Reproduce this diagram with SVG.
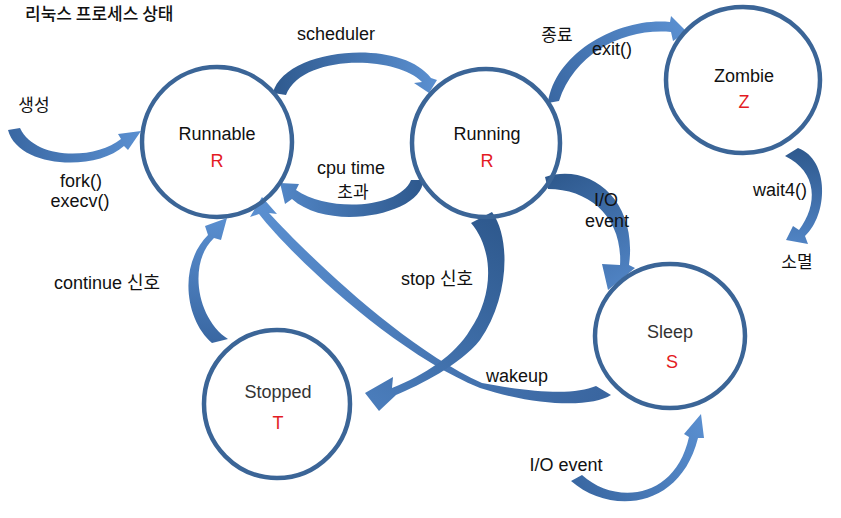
<svg xmlns="http://www.w3.org/2000/svg" width="841" height="518" viewBox="0 0 841 518">
<style>
.st{fill:none;stroke:#3b6597;stroke-width:4.5}
.t{font-family:"Liberation Sans","Noto Sans CJK KR",sans-serif;font-size:18px;fill:#111;text-anchor:middle}
.k{font-family:"Noto Sans CJK KR","Liberation Sans",sans-serif;font-size:17px;fill:#111;text-anchor:middle}
.r{font-family:"Liberation Sans",sans-serif;font-size:18px;fill:#e31b23;text-anchor:middle}
.g{fill:#333}
</style>
<defs>
<linearGradient id="a1" gradientUnits="userSpaceOnUse" x1="10" y1="130" x2="140" y2="131"><stop offset="0" stop-color="#3a68a3"/><stop offset="1" stop-color="#5a8fd0"/></linearGradient>
<linearGradient id="a2" gradientUnits="userSpaceOnUse" x1="275" y1="95" x2="435" y2="88"><stop offset="0" stop-color="#2f5a8f"/><stop offset="1" stop-color="#5a8fd0"/></linearGradient>
<linearGradient id="a3" gradientUnits="userSpaceOnUse" x1="418" y1="182" x2="280" y2="185"><stop offset="0" stop-color="#2f5a8f"/><stop offset="1" stop-color="#5286c6"/></linearGradient>
<linearGradient id="a4" gradientUnits="userSpaceOnUse" x1="553" y1="103" x2="686" y2="32"><stop offset="0" stop-color="#3a68a3"/><stop offset="1" stop-color="#5a8fd0"/></linearGradient>
<linearGradient id="a5" gradientUnits="userSpaceOnUse" x1="790" y1="150" x2="786" y2="240"><stop offset="0" stop-color="#2f5a8f"/><stop offset="1" stop-color="#4f82c2"/></linearGradient>
<linearGradient id="a6" gradientUnits="userSpaceOnUse" x1="548" y1="182" x2="608" y2="288"><stop offset="0" stop-color="#2f5a8f"/><stop offset="1" stop-color="#4f82c2"/></linearGradient>
<linearGradient id="a7" gradientUnits="userSpaceOnUse" x1="482" y1="218" x2="366" y2="393"><stop offset="0" stop-color="#2f5a8f"/><stop offset="1" stop-color="#4a7cba"/></linearGradient>
<linearGradient id="a8" gradientUnits="userSpaceOnUse" x1="603" y1="391" x2="262" y2="198"><stop offset="0" stop-color="#3a66a0"/><stop offset="1" stop-color="#5a8fd0"/></linearGradient>
<linearGradient id="a9" gradientUnits="userSpaceOnUse" x1="220" y1="340" x2="226" y2="218"><stop offset="0" stop-color="#3a68a3"/><stop offset="1" stop-color="#5a8fd0"/></linearGradient>
<linearGradient id="a10" gradientUnits="userSpaceOnUse" x1="576" y1="478" x2="701" y2="414"><stop offset="0" stop-color="#3a68a3"/><stop offset="1" stop-color="#5a8fd0"/></linearGradient>
</defs>
<rect width="841" height="518" fill="#fff"/>
<text x="25" y="20" font-family="Noto Sans CJK KR, sans-serif" font-size="17" font-weight="500" fill="#111">리눅스 프로세스 상태</text>
<g id="connectors">
<path id="fork" fill="url(#a1)" d="M8,130 C18,168 95,172 124,146 L128,150 L141,131 L118,134 L121,139 C95,160 35,160 20,128 Z"/>
<path id="scheduler" fill="url(#a2)" d="M273,93 C284,48 400,37 431,78 L437,80 L429,93 L414,83 L422,82 C395,55 302,54 286,95 Z"/>
<path id="cputime" fill="url(#a3)" d="M423,180 C424,214 330,233 292,199 L285,204 L280,183 L299,184 L296,190 C330,213 400,208 411,180 Z"/>
<path id="exit" fill="url(#a4)" d="M548,103 C555,52 620,17 670,22 L671,16 L687,32 L673,41 L671,32 C625,28 575,52 559,101 Z"/>
<path id="wait4" fill="url(#a5)" d="M798,148 C830,160 828,215 805,236 L808,244 L786,240 L793,226 L799,230 C818,205 818,172 785,156 Z"/>
<path id="ioevent1" fill="url(#a6)" d="M545,177 C590,162 638,200 629,265 L635,268 L608,290 L602,264 L620,265 C623,218 590,189 548,189 Z"/>
<path id="wakeup" fill="url(#a8)" d="M259,214 C292,256 394,353 480,388 C540,407 592,407 611,395 L596,386 C575,395 535,393 482,383 C402,347 306,253 269,213 L277,214 L262,197 L250,217 Z"/>
<path id="stop" fill="url(#a7)" d="M471,223 L492,212 C512,240 508,300 480,340 C460,365 420,385 396,395 L379,411 L365,393 L393,377 L392,388 C425,375 455,355 470,330 C494,295 494,250 471,223 Z"/>
<path id="continue" fill="url(#a9)" d="M212,343 C185,320 178,265 208,235 L205,226 L227,218 L221,240 L214,238 C188,262 196,318 228,339 Z"/>
<path id="ioevent2" fill="url(#a10)" d="M571,481 C610,515 680,510 698,438 L704,438 L701,414 L684,434 L689,437 C675,500 615,505 582,475 Z"/>
</g>
<g id="runnable">
<circle class="st" cx="217" cy="142" r="75"/>
<text class="t" x="217" y="140">Runnable</text>
<text class="r" x="217" y="167">R</text>
</g>
<g id="running">
<circle class="st" cx="486" cy="143" r="74"/>
<text class="t" x="487" y="140">Running</text>
<text class="r" x="487" y="167">R</text>
</g>
<g id="zombie">
<ellipse class="st" cx="743" cy="80" rx="77" ry="73"/>
<text class="t" x="744" y="82">Zombie</text>
<text class="r" x="744" y="108">Z</text>
</g>
<g id="sleep">
<ellipse class="st" cx="670" cy="336" rx="75" ry="72"/>
<text class="t g" x="670" y="338">Sleep</text>
<text class="r" x="672" y="368">S</text>
</g>
<g id="stopped">
<ellipse class="st" cx="277" cy="404" rx="73" ry="74"/>
<text class="t g" x="278" y="398">Stopped</text>
<text class="r" x="278" y="429">T</text>
</g>
<g id="labels">
<text class="k" x="34" y="111">생성</text>
<text class="t" x="81" y="187">fork()</text>
<text class="t" x="80" y="207">execv()</text>
<text class="t" x="336" y="40">scheduler</text>
<text class="t" x="351" y="174">cpu time</text>
<text class="k" x="353" y="198">초과</text>
<text class="k" x="557" y="41">종료</text>
<text class="t" x="612" y="55">exit()</text>
<text class="t" x="606" y="206">I/O</text>
<text class="t" x="607" y="227">event</text>
<text class="t" x="780" y="196">wait4()</text>
<text class="k" x="797" y="268">소멸</text>
<text class="t" x="107" y="289">continue 신호</text>
<text class="t" x="437" y="285">stop 신호</text>
<text class="t" x="517" y="382">wakeup</text>
<text class="t" x="566" y="471">I/O event</text>
</g>
</svg>
